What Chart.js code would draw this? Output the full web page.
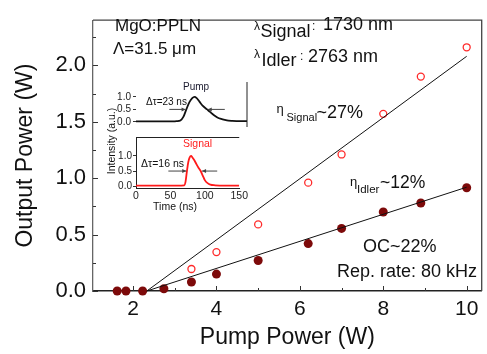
<!DOCTYPE html>
<html>
<head>
<meta charset="utf-8">
<script src="https://cdn.jsdelivr.net/npm/chart.js@4.4.1/dist/chart.umd.min.js"></script>
<style>
  html, body { margin: 0; padding: 0; background: #fff; }
  #wrap { position: relative; width: 487px; height: 354px; }
  canvas { position: absolute; }
  #main { left: 0; top: 0; }
  #pump { left: 100px; top: 74px; }
  #sig { left: 100px; top: 130px; }
</style>
</head>
<body>
<div id="wrap">
  <canvas id="main" width="487" height="354"></canvas>
  <canvas id="pump" width="150" height="60"></canvas>
  <canvas id="sig" width="150" height="84"></canvas>
</div>
<script>
const F = '"Liberation Sans", Arial, Helvetica, sans-serif';
Chart.defaults.font.family = F;
Chart.defaults.color = '#111';

// main plot: output power vs pump power
const idlerPump = [1.62, 1.83, 2.23, 2.74, 3.4, 4.0, 5.0, 6.2, 7.0, 8.0, 8.9, 10.0];
const idlerPower = [0, 0, 0, 0.02, 0.08, 0.15, 0.27, 0.42, 0.555, 0.70, 0.78, 0.915];
const signalPump = [3.4, 4.0, 5.0, 6.2, 7.0, 8.0, 8.9, 10.0];
const signalPower = [0.195, 0.345, 0.59, 0.96, 1.21, 1.57, 1.90, 2.16];
const signalFitX = [2.33, 10.0];
const signalFitY = [0, 2.08];
const idlerFitX = [2.33, 10.0];
const idlerFitY = [0, 0.92];
const xTicks = [2, 4, 6, 8, 10];
const yTicks = [0, 0.5, 1.0, 1.5, 2.0];

// inset: pulse shapes
const pumpTime = [0, 10, 20, 30, 40, 50, 55, 60, 64, 68, 72, 76, 79, 82, 86, 90, 96, 100, 105, 110, 115, 120, 125, 130, 140, 150];
const pumpPulse = [0.02, 0.02, 0.02, 0.02, 0.02, 0.02, 0.03, 0.06, 0.2, 0.5, 0.78, 0.95, 1.0, 0.95, 0.8, 0.65, 0.5, 0.4, 0.28, 0.18, 0.12, 0.08, 0.05, 0.04, 0.03, 0.03];
const sigTime = [0, 20, 40, 60, 70, 72, 74, 76, 78, 80, 82, 85, 88, 91, 94, 97, 100, 104, 108, 115, 130, 150];
const sigPulse = [0.02, 0.02, 0.02, 0.02, 0.03, 0.15, 0.5, 0.8, 0.95, 1.0, 0.95, 0.85, 0.72, 0.6, 0.5, 0.35, 0.2, 0.1, 0.05, 0.03, 0.02, 0.02];
const insetXTicks = [0, 50, 100, 150];
const insetYTicks = [0, 0.5, 1.0];
const pumpArrows = [[45, 67], [120, 97]];   // [tail, head] at half maximum
const sigArrows = [[47, 73], [118, 96]];

function pts(xs, ys) { return xs.map((x, i) => ({ x, y: ys[i] })); }
function fixTicks(vals) { return s => { s.ticks = vals.map(v => ({ value: v })); }; }
function minors(vals, min, max) {
  const step = vals[1] - vals[0];
  const out = [];
  vals.forEach(v => [v - step / 2, v + step / 2].forEach(m => {
    if (m > min && m < max && !out.includes(m)) out.push(m);
  }));
  return out;
}
function txt(ctx, s, x, y, size, color) {
  ctx.font = size + 'px ' + F;
  ctx.fillStyle = color || '#111';
  ctx.fillText(s, x, y);
}

const mainDecor = {
  id: 'mainDecor',
  beforeDatasetsDraw(chart) {
    const { ctx, chartArea: a, scales: { x, y } } = chart;
    ctx.save();
    ctx.strokeStyle = '#444';
    ctx.lineWidth = 1.3;
    ctx.beginPath();
    ctx.moveTo(a.left, a.top); ctx.lineTo(a.right, a.top); ctx.lineTo(a.right, a.bottom);
    ctx.stroke();
    ctx.strokeStyle = '#333';
    ctx.lineWidth = 1;
    ctx.beginPath();
    const xt = (v, len) => { const p = Math.round(x.getPixelForValue(v)) + 0.5; ctx.moveTo(p, a.bottom); ctx.lineTo(p, a.bottom - len); };
    const yt = (v, len) => { const p = Math.round(y.getPixelForValue(v)) + 0.5; ctx.moveTo(a.left, p); ctx.lineTo(a.left + len, p); };
    xTicks.forEach(v => xt(v, 5));
    minors(xTicks, x.min, x.max).forEach(v => xt(v, 3));
    yTicks.forEach(v => yt(v, 5));
    minors(yTicks, y.min, y.max).forEach(v => yt(v, 3));
    ctx.stroke();
    ctx.restore();
  },
  afterDraw(chart) {
    const ctx = chart.ctx;
    ctx.save();
    ctx.textAlign = 'left';
    ctx.textBaseline = 'alphabetic';
    txt(ctx, 'MgO:PPLN', 115, 31, 17);
    txt(ctx, 'Λ=31.5 μm', 113, 54, 17);

    txt(ctx, 'λ', 254, 30, 12);
    txt(ctx, 'Signal', 260.5, 37, 18);
    txt(ctx, ':', 312, 30, 12);
    txt(ctx, '1730 nm', 323, 30, 18);

    txt(ctx, 'λ', 254, 58, 12);
    txt(ctx, 'Idler', 261.5, 66, 18);
    txt(ctx, ':', 300, 60, 12);
    txt(ctx, '2763 nm', 308, 62, 18);

    txt(ctx, 'η', 276.5, 113, 13);
    txt(ctx, 'Signal', 286.5, 121, 11);
    txt(ctx, '~27%', 316.5, 118, 18);

    txt(ctx, 'η', 350, 186, 13);
    txt(ctx, 'Idler', 357, 193, 11.5);
    txt(ctx, '~12%', 380, 188, 17.5);

    txt(ctx, 'OC~22%', 363, 252, 18);
    txt(ctx, 'Rep. rate: 80 kHz', 337, 277, 18);

    // inset labels
    txt(ctx, 'Pump', 183, 89.5, 10, '#1a1a2e');
    txt(ctx, 'Signal', 183, 146.5, 10.5, '#ff2020');
    txt(ctx, 'Δτ=23 ns', 146, 105, 10);
    txt(ctx, 'Δτ=16 ns', 141, 167, 10.5);
    ctx.textAlign = 'center';
    ctx.textBaseline = 'middle';
    txt(ctx, 'Time (ns)', 175, 207, 10.5);
    ctx.translate(112.5, 141);
    ctx.rotate(-Math.PI / 2);
    txt(ctx, 'Intensity (a.u.)', 0, 0, 10.5);
    ctx.restore();
  }
};

new Chart(document.getElementById('main'), {
  data: {
    datasets: [
      { type: 'line', data: pts(signalFitX, signalFitY), borderColor: '#111', borderWidth: 1, pointRadius: 0 },
      { type: 'line', data: pts(idlerFitX, idlerFitY), borderColor: '#111', borderWidth: 1, pointRadius: 0 },
      { type: 'scatter', data: pts(signalPump, signalPower), pointRadius: 3.5, pointBorderWidth: 1.3,
        pointBorderColor: '#ff2a2a', pointBackgroundColor: 'rgba(255,255,255,0)' },
      { type: 'scatter', data: pts(idlerPump, idlerPower), pointRadius: 4.5, pointBorderWidth: 0,
        pointBackgroundColor: '#7d0a0a', pointBorderColor: '#7d0a0a' }
    ]
  },
  options: {
    responsive: false,
    animation: false,
    clip: false,
    layout: { padding: { top: 3, right: 5, left: 0, bottom: 0 } },
    plugins: { legend: { display: false }, tooltip: { enabled: false } },
    scales: {
      x: {
        type: 'linear', min: 1.04, max: 10.36,
        afterBuildTicks: fixTicks(xTicks),
        afterFit: s => { s.height = 63; },
        grid: { display: false, drawTicks: false },
        border: { display: true, color: '#222', width: 1.6 },
        ticks: { padding: 6, color: '#111', font: { size: 21 }, callback: v => String(v) },
        title: { display: true, text: 'Pump Power (W)', color: '#111', font: { size: 23 }, padding: { top: 0, bottom: 3 } }
      },
      y: {
        type: 'linear', min: 0, max: 2.4,
        afterBuildTicks: fixTicks(yTicks),
        afterFit: s => { s.width = 93; },
        grid: { display: false, drawTicks: false },
        border: { display: true, color: '#666', width: 1.3 },
        ticks: { padding: 7, color: '#111', font: { size: 22 }, callback: v => v.toFixed(1) },
        title: { display: true, text: 'Output Power (W)', color: '#111', font: { size: 23 }, padding: { top: 12, bottom: 0 } }
      }
    }
  },
  plugins: [mainDecor]
});

function arrowPlugin(id, arrows, level, side) {
  return {
    id,
    afterDatasetsDraw(chart) {
      const { ctx, chartArea: a, scales: { x, y } } = chart;
      ctx.save();
      ctx.strokeStyle = '#444';
      ctx.fillStyle = '#444';
      ctx.lineWidth = 1;
      const py = y.getPixelForValue(level);
      arrows.forEach(([t0, t1]) => {
        const x0 = x.getPixelForValue(t0), x1 = x.getPixelForValue(t1);
        const d = Math.sign(x1 - x0);
        ctx.beginPath(); ctx.moveTo(x0, py); ctx.lineTo(x1, py); ctx.stroke();
        ctx.beginPath(); ctx.moveTo(x1, py); ctx.lineTo(x1 - d * 4, py - 2); ctx.lineTo(x1 - d * 4, py + 2); ctx.closePath(); ctx.fill();
      });
      ctx.strokeStyle = '#222';
      ctx.lineWidth = 1;
      ctx.beginPath();
      if (side === 'right') { ctx.moveTo(a.right, a.top); ctx.lineTo(a.right, a.bottom + 1); }
      if (side === 'top') { ctx.moveTo(a.left, a.top + 0.5); ctx.lineTo(a.right, a.top + 0.5); }
      ctx.stroke();
      ctx.restore();
    }
  };
}

const insetY = (min, max, tickPad, bordered) => ({
  type: 'linear', min, max,
  afterBuildTicks: fixTicks(insetYTicks),
  afterFit: s => { s.width = 36; },
  grid: { display: true, drawOnChartArea: false, drawTicks: true, tickLength: 3, color: '#333' },
  border: { display: bordered, color: '#222', width: 1 },
  ticks: { padding: tickPad, color: '#222', font: { size: 10 }, callback: v => v.toFixed(1) }
});

new Chart(document.getElementById('pump'), {
  type: 'line',
  data: { datasets: [{ data: pts(pumpTime, pumpPulse), borderColor: '#111', borderWidth: 1.8, pointRadius: 0, cubicInterpolationMode: 'monotone' }] },
  options: {
    responsive: false, animation: false,
    layout: { padding: { top: 4, right: 3, left: 0, bottom: 0 } },
    plugins: { legend: { display: false }, tooltip: { enabled: false } },
    scales: {
      x: { type: 'linear', min: 0, max: 150, display: false },
      y: insetY(-0.16, 1.59, 2, false)
    }
  },
  plugins: [arrowPlugin('pumpArrows', pumpArrows, 0.5, 'right')]
});

new Chart(document.getElementById('sig'), {
  type: 'line',
  data: { datasets: [{ data: pts(sigTime, sigPulse), borderColor: '#ff1a1a', borderWidth: 1.8, pointRadius: 0, cubicInterpolationMode: 'monotone' }] },
  options: {
    responsive: false, animation: false,
    layout: { padding: { top: 4, right: 3, left: 0, bottom: 0 } },
    plugins: { legend: { display: false }, tooltip: { enabled: false } },
    scales: {
      x: {
        type: 'linear', min: 0, max: 150,
        afterBuildTicks: fixTicks(insetXTicks),
        afterFit: s => { s.height = 26; },
        grid: { display: false, drawTicks: false },
        border: { display: true, color: '#222', width: 1 },
        ticks: { padding: 2, color: '#222', font: { size: 10.5 }, callback: v => String(v) }
      },
      y: insetY(-0.06, 1.625, 1, true)
    }
  },
  plugins: [arrowPlugin('sigArrows', sigArrows, 0.5, 'top')]
});
</script>
</body>
</html>
